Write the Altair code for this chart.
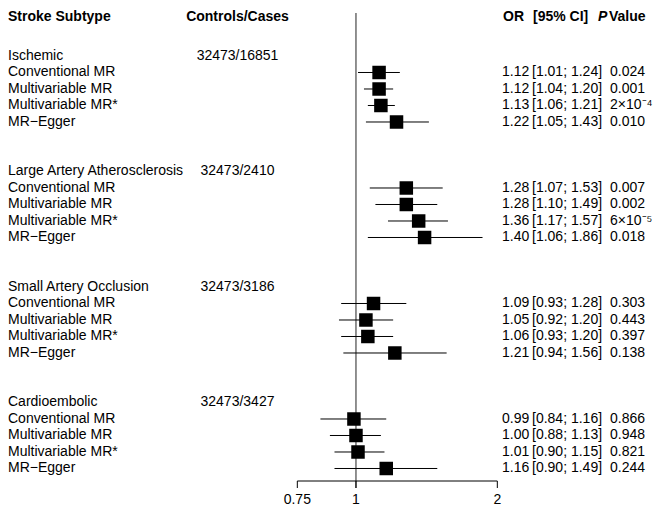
import altair as alt
import pandas as pd

# ---------------- data ----------------
groups = ["Ischemic", "Large Artery Atherosclerosis", "Small Artery Occlusion", "Cardioembolic"]
controls_cases = ["32473/16851", "32473/2410", "32473/3186", "32473/3427"]
methods = ["Conventional MR", "Multivariable MR", "Multivariable MR*", "MR\u2212Egger"]

or_vals = [1.12, 1.12, 1.13, 1.22,
           1.28, 1.28, 1.36, 1.40,
           1.09, 1.05, 1.06, 1.21,
           0.99, 1.00, 1.01, 1.16]
ci_lo = [1.01, 1.04, 1.06, 1.05,
         1.07, 1.10, 1.17, 1.06,
         0.93, 0.92, 0.93, 0.94,
         0.84, 0.88, 0.90, 0.90]
ci_hi = [1.24, 1.20, 1.21, 1.43,
         1.53, 1.49, 1.57, 1.86,
         1.28, 1.20, 1.20, 1.56,
         1.16, 1.13, 1.15, 1.49]
p_text = ["0.024", "0.001", "2\u00d710\u207b\u2074", "0.010",
          "0.007", "0.002", "6\u00d710\u207b\u2075", "0.018",
          "0.303", "0.443", "0.397", "0.138",
          "0.866", "0.948", "0.821", "0.244"]

axis_ticks = [0.75, 1, 2]
axis_labels = ["0.75", "1", "2"]

# ---------------- tables ----------------
rows = []
for g, grp in enumerate(groups):
    for i, m in enumerate(methods):
        k = g * 4 + i
        rows.append({
            "row": g * 7 + 1 + i,
            "label": m,
            "or": or_vals[k],
            "lo": ci_lo[k],
            "hi": ci_hi[k],
            "or_txt": f"{or_vals[k]:.2f}",
            "ci_txt": f"[{ci_lo[k]:.2f}; {ci_hi[k]:.2f}]",
            "p_txt": p_text[k],
        })
items = pd.DataFrame(rows)
heads = pd.DataFrame({"row": [g * 7 for g in range(len(groups))],
                      "label": groups, "cc": controls_cases})
ticks = pd.DataFrame({"v": axis_ticks, "lab": axis_labels})

W, H = 650, 500
xscale = alt.Scale(type="log", domain=[0.1815, 4.398], nice=False)
yscale = alt.Scale(domain=[-2.909, 27.394], reverse=True, nice=False, zero=False)

def Y():
    return alt.Y("row:Q", scale=yscale, axis=None)

FONT = "Liberation Sans"

# group header texts
grp_lab = alt.Chart(heads).mark_text(align="left", baseline="middle").encode(
    x=alt.value(0), y=Y(), text="label:N")
grp_cc = alt.Chart(heads).mark_text(align="center", baseline="middle").encode(
    x=alt.value(229.5), y=Y(), text="cc:N")

# item texts
it_lab = alt.Chart(items).mark_text(align="left", baseline="middle").encode(
    x=alt.value(0), y=Y(), text="label:N")
it_or = alt.Chart(items).mark_text(align="left", baseline="middle").encode(
    x=alt.value(494), y=Y(), text="or_txt:N")
it_ci = alt.Chart(items).mark_text(align="left", baseline="middle").encode(
    x=alt.value(524), y=Y(), text="ci_txt:N")
it_p = alt.Chart(items).mark_text(align="left", baseline="middle").encode(
    x=alt.value(602), y=Y(), text="p_txt:N")

# CI lines and squares
ci = alt.Chart(items).mark_rule(color="black", strokeWidth=1).encode(
    x=alt.X("lo:Q", scale=xscale, axis=None), x2="hi:Q", y=Y())
sq = alt.Chart(items).mark_square(color="black", opacity=1, size=182).encode(
    x=alt.X("or:Q", scale=xscale, axis=None), y=Y())

# reference line at 1
ref = alt.Chart(pd.DataFrame({"v": [1]})).mark_rule(color="#222", strokeWidth=1).encode(
    x=alt.X("v:Q", scale=xscale, axis=None), y=alt.value(5), y2=alt.value(480))

# custom axis
ax_line = alt.Chart(pd.DataFrame({"a": [axis_ticks[0]], "b": [axis_ticks[-1]]})).mark_rule(
    color="black", strokeWidth=1).encode(
    x=alt.X("a:Q", scale=xscale, axis=None), x2="b:Q", y=alt.value(473))
ax_ticks = alt.Chart(ticks).mark_rule(color="black", strokeWidth=1).encode(
    x=alt.X("v:Q", scale=xscale, axis=None), y=alt.value(473), y2=alt.value(480))
ax_labs = alt.Chart(ticks).mark_text(align="center", baseline="middle").encode(
    x=alt.X("v:Q", scale=xscale, axis=None), y=alt.value(492), text="lab:N")

# column headers
def header(txt, x, align="left", italic=False):
    return alt.Chart(pd.DataFrame({"t": [txt]})).mark_text(
        align=align, baseline="alphabetic", fontWeight="bold",
        fontStyle="italic" if italic else "normal").encode(
        x=alt.value(x), y=alt.value(13), text="t:N")

hdrs = [header("Stroke Subtype", 0),
        header("Controls/Cases", 229.5, align="center"),
        header("OR", 495),
        header("[95% CI]", 525),
        header("P", 590, italic=True),
        header("Value", 601)]

chart = alt.layer(ref, ci, sq, ax_line, ax_ticks, ax_labs,
                  grp_lab, grp_cc, it_lab, it_or, it_ci, it_p, *hdrs).properties(
    width=W, height=H, padding=0,
    autosize=alt.AutoSizeParams(type="none"),
).configure_view(strokeWidth=0).configure_text(
    font=FONT, fontSize=14, color="black")

chart.save("out.html", embed_options={"renderer": "svg", "actions": False})
